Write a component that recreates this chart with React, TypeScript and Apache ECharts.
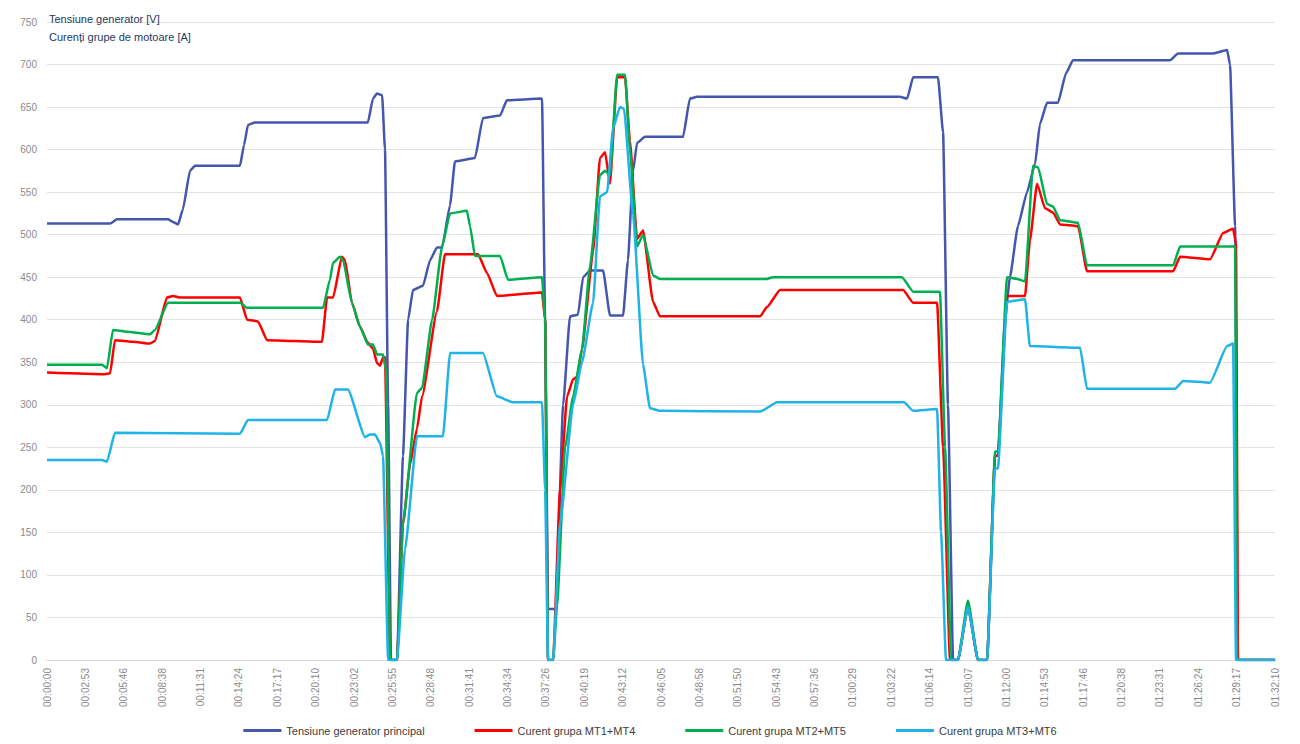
import React, { useEffect, useRef } from "react";
import * as echarts from "echarts";

// Time ticks every 172.8 s (0.002 day)
const tickStep = 172.8;
const tickLabels = [
  "00:00:00", "00:02:53", "00:05:46", "00:08:38", "00:11:31", "00:14:24", "00:17:17", "00:20:10",
  "00:23:02", "00:25:55", "00:28:48", "00:31:41", "00:34:34", "00:37:26", "00:40:19", "00:43:12",
  "00:46:05", "00:48:58", "00:51:50", "00:54:43", "00:57:36", "01:00:29", "01:03:22", "01:06:14",
  "01:09:07", "01:12:00", "01:14:53", "01:17:46", "01:20:38", "01:23:31", "01:26:24", "01:29:17",
  "01:32:10",
];

const seriesNames = [
  "Tensiune generator principal",
  "Curent grupa MT1+MT4",
  "Curent grupa MT2+MT5",
  "Curent grupa MT3+MT6",
];

// [seconds, value]
const tensiune: [number, number][] = [
  [0, 513], [284, 513], [315, 518], [545, 518], [567, 515], [590, 512], [612, 530], [644, 575], [666, 581],
  [869, 581], [887, 605], [905, 629], [937, 632], [1445, 632], [1468, 660], [1486, 666], [1509, 664],
  [1522, 600], [1536, 300], [1549, 0], [1576, 0], [1603, 240], [1626, 400], [1648, 435], [1693, 440],
  [1725, 470], [1756, 485], [1779, 485], [1815, 535], [1837, 586], [1927, 590], [1963, 637], [2040, 640],
  [2071, 658], [2229, 660], [2243, 400], [2256, 60], [2292, 60], [2324, 300], [2355, 404], [2391, 406],
  [2414, 450], [2445, 458], [2504, 458], [2535, 405], [2594, 405], [2616, 470], [2639, 575], [2657, 608],
  [2693, 615], [2864, 615], [2895, 660], [2927, 662], [3841, 662], [3873, 660], [3900, 685], [4012, 685],
  [4035, 620], [4057, 300], [4080, 0], [4102, 0], [4147, 62], [4192, 0], [4233, 0], [4269, 240],
  [4282, 240], [4314, 400], [4336, 450], [4372, 510], [4413, 550], [4449, 583], [4471, 630], [4503, 655],
  [4552, 655], [4589, 690], [4620, 705], [5057, 705], [5093, 713], [5250, 713], [5314, 717], [5327, 700],
  [5350, 510], [5363, 0], [5530, 0],
];

const curentMT1MT4: [number, number][] = [
  [0, 338], [261, 336], [284, 337], [306, 376], [387, 374], [464, 372], [486, 375], [540, 426], [567, 428],
  [599, 426], [869, 426], [901, 400], [950, 398], [991, 376], [1238, 374], [1261, 426], [1288, 426],
  [1328, 474], [1342, 470], [1373, 420], [1409, 392], [1445, 373], [1468, 366], [1486, 349], [1500, 346],
  [1513, 356], [1522, 356], [1545, 0], [1576, 0], [1603, 160], [1635, 230], [1666, 272], [1689, 310],
  [1756, 410], [1792, 477], [1941, 477], [1981, 455], [2026, 428], [2229, 432], [2243, 400], [2256, 0],
  [2279, 0], [2310, 200], [2342, 310], [2369, 330], [2387, 333], [2409, 365], [2459, 480], [2490, 590],
  [2513, 597], [2535, 560], [2567, 685], [2603, 685], [2625, 610], [2657, 495], [2684, 505], [2729, 421],
  [2760, 404], [3211, 404], [3242, 415], [3301, 435], [3855, 435], [3900, 420], [4008, 420], [4035, 250],
  [4066, 0], [4102, 0], [4147, 64], [4192, 0], [4233, 0], [4269, 240], [4282, 240], [4323, 428],
  [4404, 428], [4426, 493], [4458, 560], [4494, 531], [4530, 526], [4562, 512], [4643, 510], [4683, 457],
  [5071, 457], [5102, 474], [5237, 471], [5296, 502], [5341, 507], [5354, 490], [5363, 0], [5530, 0],
];

const curentMT2MT5: [number, number][] = [
  [0, 347], [248, 347], [270, 343], [297, 388], [360, 386], [464, 383], [486, 388], [545, 420], [585, 420],
  [869, 420], [901, 414], [1243, 414], [1274, 447], [1288, 467], [1319, 474], [1333, 470], [1373, 420],
  [1409, 392], [1445, 371], [1468, 371], [1486, 359], [1513, 359], [1527, 340], [1545, 0], [1576, 0],
  [1603, 160], [1666, 314], [1689, 320], [1734, 400], [1779, 486], [1815, 525], [1891, 528], [1905, 510],
  [1927, 475], [2040, 475], [2076, 447], [2229, 450], [2243, 400], [2256, 0], [2279, 0], [2297, 65],
  [2333, 250], [2369, 310], [2409, 365], [2445, 463], [2490, 570], [2513, 575], [2535, 570], [2567, 688],
  [2603, 688], [2625, 600], [2657, 486], [2684, 500], [2729, 452], [2760, 448], [3242, 448], [3269, 450],
  [3850, 450], [3900, 433], [4021, 433], [4044, 250], [4071, 0], [4102, 0], [4147, 70], [4192, 0],
  [4233, 0], [4269, 245], [4282, 245], [4323, 450], [4368, 448], [4404, 445], [4440, 581], [4463, 579],
  [4503, 536], [4530, 533], [4562, 517], [4643, 514], [4683, 464], [5071, 464], [5102, 486], [5350, 486],
  [5359, 0], [5530, 0],
];

const curentMT3MT6: [number, number][] = [
  [0, 235], [248, 235], [270, 233], [306, 267], [869, 266], [905, 282], [1261, 282], [1297, 318],
  [1355, 318], [1432, 262], [1454, 265], [1477, 265], [1500, 255], [1513, 240], [1536, 0], [1576, 0],
  [1612, 130], [1666, 263], [1783, 263], [1815, 361], [1963, 361], [2026, 310], [2098, 303], [2229, 303],
  [2243, 200], [2256, 0], [2279, 0], [2310, 160], [2369, 300], [2409, 350], [2459, 420], [2490, 545],
  [2522, 550], [2549, 625], [2580, 650], [2598, 648], [2639, 523], [2684, 347], [2715, 296], [2760, 293],
  [3211, 292], [3288, 303], [3859, 303], [3900, 293], [4008, 295], [4026, 150], [4048, 0], [4102, 0],
  [4147, 62], [4192, 0], [4233, 0], [4269, 225], [4282, 225], [4323, 421], [4404, 424], [4426, 369],
  [4652, 367], [4683, 319], [5080, 319], [5116, 328], [5237, 326], [5314, 369], [5341, 372], [5354, 0],
  [5530, 0],
];

const colors = ["#4557ad", "#ff0000", "#00b050", "#1fb3e6"];

export default function App() {
  const ref = useRef<HTMLDivElement>(null);

  useEffect(() => {
    if (!ref.current) return;
    const chart = echarts.init(ref.current, null, { renderer: "svg" });
    const datasets = [tensiune, curentMT1MT4, curentMT2MT5, curentMT3MT6];
    chart.setOption({
      animation: false,
      backgroundColor: "#ffffff",
      color: colors,
      textStyle: { fontFamily: "Liberation Sans, Arial, sans-serif" },
      title: {
        text: "Tensiune generator [V]\nCurenți grupe de motoare [A]",
        left: 44,
        top: 5,
        textStyle: {
          fontSize: 11,
          fontWeight: "normal",
          color: "#1f3864",
          lineHeight: 18,
          fontFamily: "Liberation Sans, Arial, sans-serif",
        },
      },
      legend: {
        bottom: 3,
        left: "center",
        itemWidth: 38,
        itemHeight: 3,
        itemGap: 50,
        icon: "rect",
        textStyle: { fontSize: 11, color: "#404040" },
        data: seriesNames,
      },
      grid: { left: 47, right: 25, top: 22, bottom: 84, containLabel: false },
      xAxis: {
        type: "value",
        min: 0,
        max: tickStep * (tickLabels.length - 1),
        interval: tickStep,
        splitLine: { show: false },
        axisLine: { show: true, lineStyle: { color: "#d9d9d9" } },
        axisTick: { show: false },
        axisLabel: {
          rotate: 90,
          fontSize: 10,
          color: "#8a8a8a",
          margin: 8,
          showMaxLabel: true,
          formatter: (v: number) => {
            const i = Math.round(v / tickStep);
            return tickLabels[i] ?? "";
          },
        },
      },
      yAxis: {
        type: "value",
        min: 0,
        max: 750,
        interval: 50,
        splitLine: { show: true, lineStyle: { color: "#e3e3e3", width: 1 } },
        axisLine: { show: false },
        axisTick: { show: false },
        axisLabel: { fontSize: 10, color: "#8a8a8a", margin: 10 },
      },
      series: seriesNames.map((name, i) => ({
        name,
        type: "line",
        data: datasets[i],
        showSymbol: false,
        symbol: "none",
        smooth: 0.15,
        smoothMonotone: "x",
        lineStyle: { width: 2.5, color: colors[i] },
        itemStyle: { color: colors[i] },
      })),
    });
    return () => chart.dispose();
  }, []);

  return (
    <div
      ref={ref}
      style={{ position: "fixed", left: 0, top: 0, width: 1300, height: 744, background: "#fff" }}
    />
  );
}
